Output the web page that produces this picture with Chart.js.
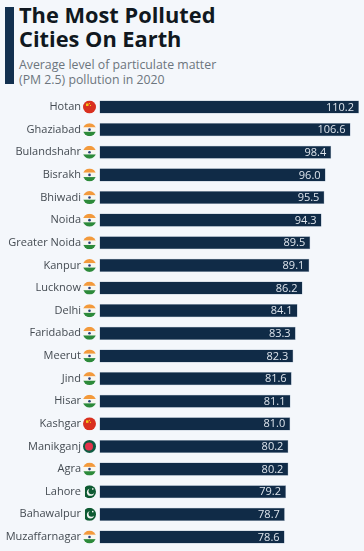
<!DOCTYPE html>
<html lang="en">
  <head>
    <meta charset="UTF-8" />
    <title>The Most Polluted Cities On Earth</title>
    <style>
      html, body { margin: 0; padding: 0; background: #f4f7fb; }
      body { width: 364px; height: 551px; position: relative; overflow: hidden; font-family: "Open Sans", sans-serif; }
      #accent { position: absolute; left: 5px; top: 7px; width: 9px; height: 77px; background: #12304f; }
      #title { position: absolute; left: 19px; top: 3px; font-size: 21.8px; line-height: 24px; font-weight: 700; color: #101820; white-space: nowrap; }
      #subtitle { position: absolute; left: 19px; top: 56.5px; font-size: 12.3px; line-height: 15.5px; color: #6c757d; white-space: nowrap; }
      #chart { position: absolute; left: 0; top: 0; }
    </style>
  </head>
  <body>
    <div id="accent"></div>
    <div id="title">The Most Polluted<br />Cities On Earth</div>
    <div id="subtitle">Average level of particulate matter<br />(PM 2.5) pollution in 2020</div>
    <canvas id="chart" width="364" height="551"></canvas>

    <script src="https://cdn.jsdelivr.net/npm/chart.js"></script>
    <script>
      const cities = ["Hotan", "Ghaziabad", "Bulandshahr", "Bisrakh", "Bhiwadi", "Noida", "Greater Noida", "Kanpur", "Lucknow", "Delhi", "Faridabad", "Meerut", "Jind", "Hisar", "Kashgar", "Manikganj", "Agra", "Lahore", "Bahawalpur", "Muzaffarnagar"];
      const pm25 = [110.2, 106.6, 98.4, 96.0, 95.5, 94.3, 89.5, 89.1, 86.2, 84.1, 83.3, 82.3, 81.6, 81.1, 81.0, 80.2, 80.2, 79.2, 78.7, 78.6];
      const countries = ["cn", "in", "in", "in", "in", "in", "in", "in", "in", "in", "in", "in", "in", "in", "cn", "bd", "in", "pk", "pk", "in"];

      // flag drawn inside a clipped circle
      function drawFlag(ctx, code, x, y, r) {
        ctx.save();
        ctx.beginPath();
        ctx.arc(x, y, r, 0, Math.PI * 2);
        ctx.clip();
        if (code === "cn") {
          ctx.fillStyle = "#d9301f";
          ctx.fillRect(x - r, y - r, r * 2, r * 2);
          ctx.fillStyle = "#f5c518";
          ctx.fillRect(x - 3.5, y - 3.5, 2.5, 2.5);
          ctx.fillRect(x - 0.5, y - 4, 1, 1);
          ctx.fillRect(x + 0.5, y - 2, 1, 1);
        } else if (code === "in") {
          const h = r * 2 / 3;
          ctx.fillStyle = "#f39a3c";
          ctx.fillRect(x - r, y - r, r * 2, h);
          ctx.fillStyle = "#f7f7f2";
          ctx.fillRect(x - r, y - r + h, r * 2, h);
          ctx.fillStyle = "#2c8a3a";
          ctx.fillRect(x - r, y - r + h * 2, r * 2, h);
          ctx.fillStyle = "#2a3f7a";
          ctx.beginPath();
          ctx.arc(x, y, 1.3, 0, Math.PI * 2);
          ctx.fill();
        } else if (code === "bd") {
          ctx.fillStyle = "#0f5c43";
          ctx.fillRect(x - r, y - r, r * 2, r * 2);
          ctx.fillStyle = "#e5334b";
          ctx.beginPath();
          ctx.arc(x - 0.5, y, 4, 0, Math.PI * 2);
          ctx.fill();
        } else if (code === "pk") {
          ctx.fillStyle = "#f2f4f2";
          ctx.fillRect(x - r, y - r, r * 2, r * 2);
          ctx.fillStyle = "#0d5a32";
          ctx.fillRect(x - r + 2, y - r, r * 2, r * 2);
          ctx.fillStyle = "#f2f4f2";
          ctx.beginPath();
          ctx.arc(x + 1, y + 0.5, 3.6, 0, Math.PI * 2);
          ctx.fill();
          ctx.fillStyle = "#0d5a32";
          ctx.beginPath();
          ctx.arc(x + 2, y - 0.5, 3, 0, Math.PI * 2);
          ctx.fill();
          ctx.fillStyle = "#f2f4f2";
          ctx.fillRect(x + 2.5, y - 3.5, 1.5, 1.5);
        }
        ctx.restore();
      }

      // flags beside the axis and the values inside the bar ends
      const barExtras = {
        id: "barExtras",
        afterDatasetsDraw(chart) {
          const ctx = chart.ctx;
          const meta = chart.getDatasetMeta(0);
          ctx.save();
          ctx.font = "11px 'Open Sans'";
          ctx.fillStyle = "#dde4ec";
          ctx.textAlign = "right";
          ctx.textBaseline = "middle";
          meta.data.forEach((bar, i) => {
            ctx.fillText(pm25[i].toFixed(1), bar.x - 5, bar.y + 0.5);
            drawFlag(ctx, countries[i], 89.5, bar.y, 6.5);
          });
          ctx.restore();
        }
      };

      new Chart(document.getElementById("chart").getContext("2d"), {
        type: "bar",
        data: {
          labels: cities,
          datasets: [{
            data: pm25,
            backgroundColor: "#102b47",
            borderColor: "#8a9fb5",
            borderWidth: 0.5,
            categoryPercentage: 1,
            barPercentage: 0.58
          }]
        },
        options: {
          indexAxis: "y",
          responsive: false,
          maintainAspectRatio: false,
          animation: false,
          layout: { padding: { top: 95.7, right: 5, bottom: 2.7, left: 0 } },
          plugins: { legend: { display: false }, tooltip: { enabled: false } },
          scales: {
            x: { display: false, min: 0, max: 110.2 },
            y: {
              // tick padding would otherwise eat into the plot height
              afterFit(scale) {
                scale.width = 99.5;
                scale.paddingTop = 0;
                scale.paddingBottom = 0;
              },
              grid: { display: false, drawTicks: false },
              border: { display: false },
              ticks: {
                autoSkip: false,
                padding: 18.5,
                color: "#444b52",
                font: { family: "'Open Sans'", size: 11 }
              }
            }
          }
        },
        plugins: [barExtras]
      });
    </script>
  </body>
</html>
